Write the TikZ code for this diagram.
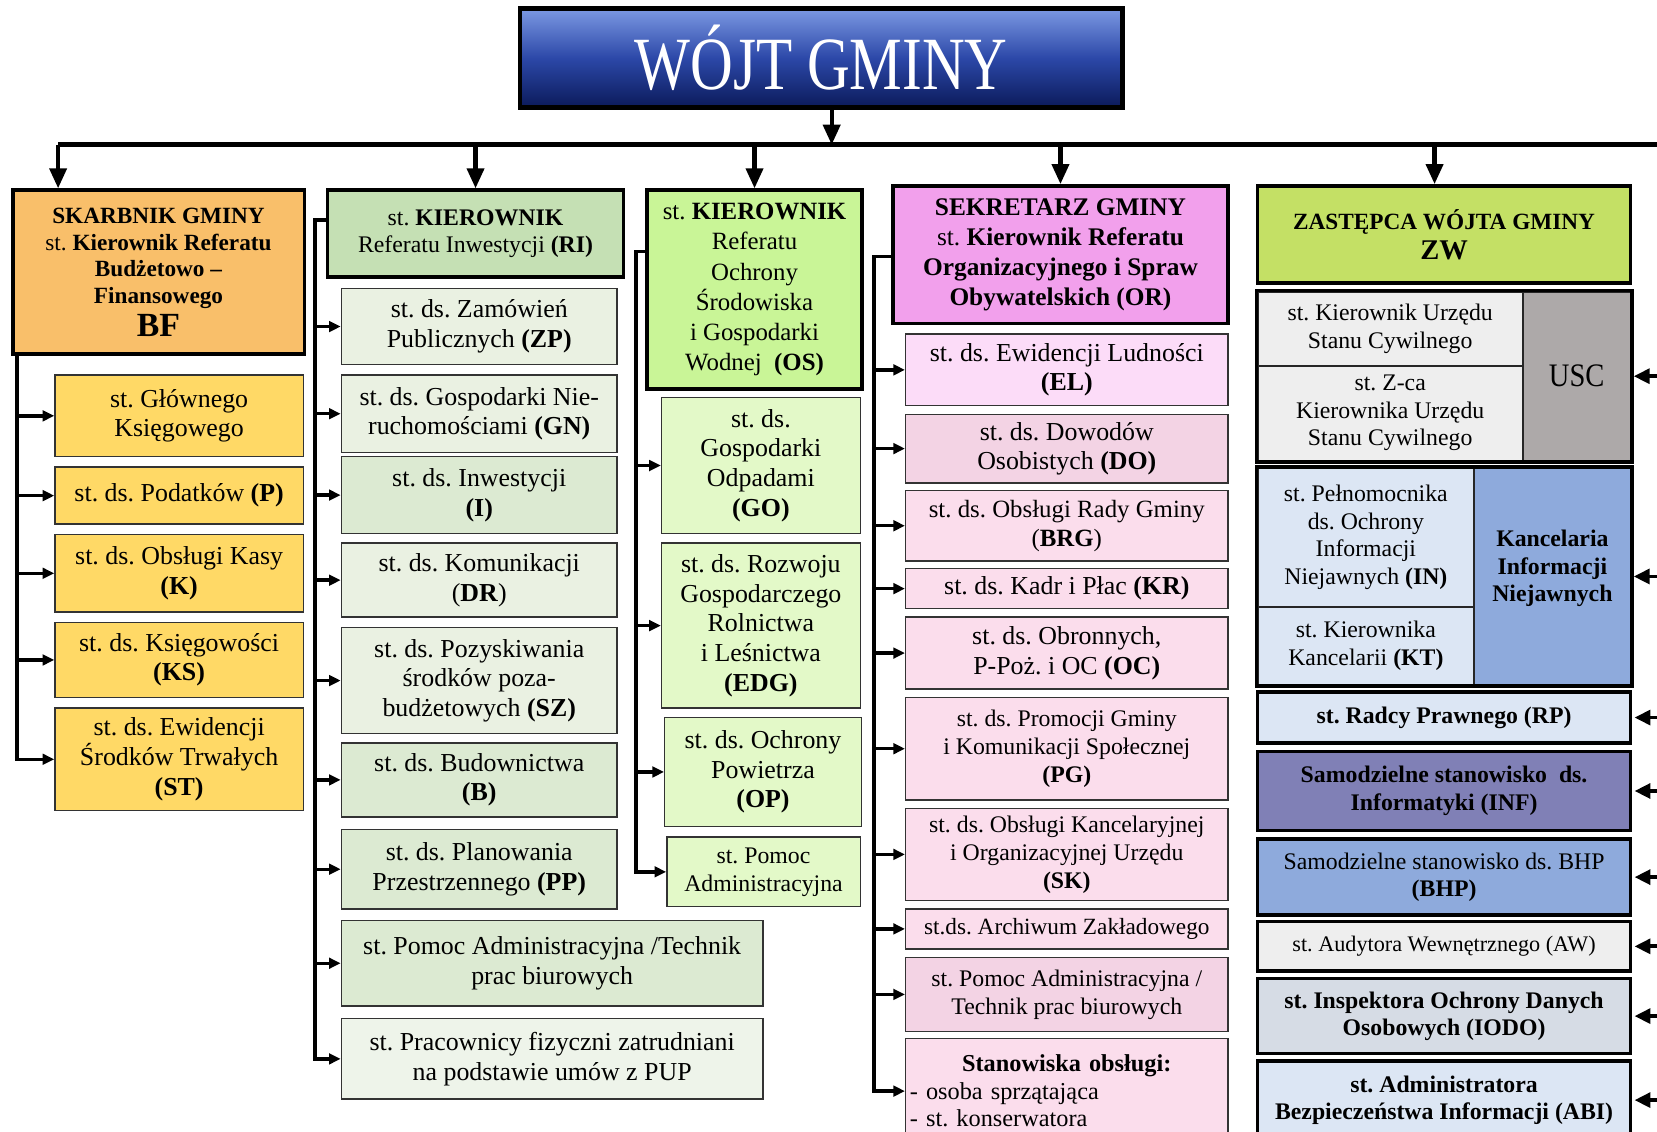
\documentclass[tikz,border=0pt]{standalone}
\usepackage{fontspec}
\setmainfont{Liberation Serif}
\usetikzlibrary{arrows.meta}
\definecolor{cOr}{HTML}{F9BF6A}
\definecolor{cYel}{HTML}{FFD966}
\definecolor{cRIh}{HTML}{C5E0B4}
\definecolor{cRIa}{HTML}{EAF1E2}
\definecolor{cRIb}{HTML}{DCEAD2}
\definecolor{cRIc}{HTML}{EEF4EA}
\definecolor{cOSh}{HTML}{C9F597}
\definecolor{cOSa}{HTML}{E3F9C8}
\definecolor{cORh}{HTML}{F2A0EC}
\definecolor{cORa}{HTML}{FCDCF8}
\definecolor{cORb}{HTML}{F3D3E4}
\definecolor{cORc}{HTML}{FBDDEC}
\definecolor{cZWh}{HTML}{C4E065}
\definecolor{cGrL}{HTML}{EEEEEE}
\definecolor{cGrD}{HTML}{ADA9A9}
\definecolor{cBlL}{HTML}{DCE6F4}
\definecolor{cBlM}{HTML}{8EAADC}
\definecolor{cPur}{HTML}{8080B6}
\definecolor{cIodo}{HTML}{D6DCE5}
\definecolor{cTtop}{HTML}{7C99E3}
\definecolor{cTmid}{HTML}{2C48A8}
\definecolor{cTbot}{HTML}{0B1A5A}
\newcommand\fC{\fontsize{24.5}{28}\selectfont}
\newcommand\fS{\fontsize{22.5}{26.5}\selectfont}
\newcommand\fH{\fontsize{22.5}{26}\selectfont}
\newcommand\bx[7]{\node[#1, minimum width={(#4)-(#2)}, minimum height={(#5)-(#3)}] (#6) at ({((#2)+(#4))/2},{((#3)+(#5))/2}) {#7};}
\tikzset{
  box/.style={draw=black!80, line width=1.3pt, align=center, inner sep=1pt, font=\fC},
  head/.style={draw=black, line width=3.5pt, align=center, inner sep=1pt},
  cell/.style={draw=black!85, line width=2pt, align=center, inner sep=1pt, font=\fH},
  side/.style={draw=black, line width=3.5pt, align=center, inner sep=1pt, font=\fH},
  trunk/.style={line width=3.2pt, line join=miter},
  arr/.style={trunk, -{Triangle[length=11pt,width=10pt]}},
  bigarr/.style={line width=4pt, -{Triangle[length=19pt,width=16pt]}},
  larr/.style={line width=3.5pt, -{Triangle[length=15pt,width=14pt]}},
}
\begin{document}
\frenchspacing
\begin{tikzpicture}[x=1pt,y=-1pt]
\useasboundingbox (0,0) rectangle (1568,1071);
% title
\node[draw=black, line width=4.5pt, minimum width=570, minimum height=94, top color=cTtop, bottom color=cTbot, middle color=cTmid, text=white, font=\fontsize{56}{60}\selectfont] (wojt) at (777,55) {\scalebox{1}[1.27]{WÓJT GMINY}};
% column 1
\bx{head,fill=cOr,font=\fontsize{22}{25.5}\selectfont}{12}{180}{288}{335}{bf}{\textbf{SKARBNIK GMINY}\\st. \textbf{Kierownik Referatu}\\\textbf{Budżetowo –}\\\textbf{Finansowego}\\[4pt]{\fontsize{32}{34}\selectfont\textbf{BF}}}
\bx{box,fill=cYel}{52}{355}{287}{432}{gk}{st. Głównego\\Księgowego}
\bx{box,fill=cYel}{52}{442}{287}{496}{pod}{st. ds. Podatków \textbf{(P)}}
\bx{box,fill=cYel}{52}{506}{287}{579}{kas}{st. ds. Obsługi Kasy\\\textbf{(K)}}
\bx{box,fill=cYel}{52}{589}{287}{660}{ksi}{st. ds. Księgowości\\\textbf{(KS)}}
\bx{box,fill=cYel}{52}{670}{287}{767}{ewi}{st. ds. Ewidencji\\Środków Trwałych\\\textbf{(ST)}}
% column 2
\bx{head,fill=cRIh,font=\fH}{310}{180}{590}{262}{ri}{st. \textbf{KIEROWNIK}\\Referatu Inwestycji \textbf{(RI)}}
\bx{box,fill=cRIa}{323}{273}{584}{345}{zp}{st. ds. Zamówień\\Publicznych \textbf{(ZP)}}
\bx{box,fill=cRIa}{323}{355}{584}{428}{gn}{st. ds. Gospodarki Nie-\\ruchomościami \textbf{(GN)}}
\bx{box,fill=cRIb}{323}{432}{584}{505}{inw}{st. ds. Inwestycji\\\textbf{(I)}}
\bx{box,fill=cRIa}{323}{514}{584}{584}{dr}{st. ds. Komunikacji\\(\textbf{DR})}
\bx{box,fill=cRIa}{323}{594}{584}{694}{sz}{st. ds. Pozyskiwania\\środków poza-\\budżetowych \textbf{(SZ)}}
\bx{box,fill=cRIb}{323}{703}{584}{773}{bud}{st. ds. Budownictwa\\\textbf{(B)}}
\bx{box,fill=cRIb}{323}{785}{584}{860}{pp}{st. ds. Planowania\\Przestrzennego \textbf{(PP)}}
\bx{box,fill=cRIb}{323}{871}{722}{952}{pomb}{st. Pomoc Administracyjna /Technik\\prac biurowych}
\bx{box,fill=cRIc}{323}{964}{722}{1040}{pra}{st. Pracownicy fizyczni zatrudniani\\na podstawie umów z PUP}
% column 3
\bx{head,fill=cOSh,font=\fontsize{23.5}{28.5}\selectfont}{612}{180}{816}{368}{os}{st. \textbf{KIEROWNIK}\\Referatu\\Ochrony\\Środowiska\\i Gospodarki\\Wodnej\ \ \textbf{(OS)}}
\bx{box,fill=cOSa}{626}{376}{814}{505}{go}{st. ds.\\Gospodarki\\Odpadami\\\textbf{(GO)}}
\bx{box,fill=cOSa}{626}{514}{814}{670}{edg}{st. ds. Rozwoju\\Gospodarczego\\Rolnictwa\\i Leśnictwa\\\textbf{(EDG)}}
\bx{box,fill=cOSa}{629}{679}{815}{782}{op}{st. ds. Ochrony\\Powietrza\\\textbf{(OP)}}
\bx{box,fill=cOSa,font=\fS}{631}{792}{814}{858}{pomc}{st. Pomoc\\Administracyjna}
% column 4
\bx{head,fill=cORh,font=\fontsize{24}{28.5}\selectfont}{845}{176}{1162}{306}{or}{\textbf{SEKRETARZ GMINY}\\st. \textbf{Kierownik Referatu}\\\textbf{Organizacyjnego i Spraw}\\\textbf{Obywatelskich (OR)}}
\bx{box,fill=cORa}{857}{316}{1162}{384}{el}{st. ds. Ewidencji Ludności\\\textbf{(EL)}}
\bx{box,fill=cORb}{857}{392}{1162}{457}{dow}{st. ds. Dowodów\\Osobistych \textbf{(DO)}}
\bx{box,fill=cORc,font=\fontsize{23.5}{27.5}\selectfont}{857}{464}{1162}{531}{brg}{st. ds. Obsługi Rady Gminy\\(\textbf{BRG})}
\bx{box,fill=cORc}{857}{538}{1162}{576}{kr}{st. ds. Kadr i Płac \textbf{(KR)}}
\bx{box,fill=cORc}{857}{584}{1162}{652}{oc}{st. ds. Obronnych,\\P-Poż. i OC \textbf{(OC)}}
\bx{box,fill=cORc,font=\fS}{857}{660}{1162}{757}{pg}{st. ds. Promocji Gminy\\i Komunikacji Społecznej\\\textbf{(PG)}}
\bx{box,fill=cORc,font=\fS}{857}{765}{1162}{852}{sk}{st. ds. Obsługi Kancelaryjnej\\i Organizacyjnej Urzędu\\\textbf{(SK)}}
\bx{box,fill=cORc,font=\fontsize{22}{26}\selectfont}{857}{860}{1162}{898}{arch}{st.ds. Archiwum Zakładowego}
\bx{box,fill=cORb,font=\fS}{857}{906}{1162}{976}{pomd}{st. Pomoc Administracyjna /\\Technik prac biurowych}
\node[box, fill=cORc, font=\fontsize{23}{26}\selectfont, minimum width=305, minimum height=99, text width=297, align=left] (sto) at (1009.5,1032.5) {\makebox[297pt][c]{\textbf{Stanowiska obsługi:}}\\- osoba sprzątająca\\- st. konserwatora};
% column 5
\bx{head,fill=cZWh,font=\fontsize{22}{26}\selectfont}{1190}{176}{1543}{268}{zw}{\textbf{ZASTĘPCA WÓJTA GMINY}\\[3pt]{\fontsize{27}{28}\selectfont\textbf{ZW}}}
\bx{cell,fill=cGrL}{1190}{276}{1441}{346}{uscA}{st. Kierownik Urzędu\\Stanu Cywilnego}
\bx{cell,fill=cGrL}{1190}{346}{1441}{436}{uscB}{st. Z-ca\\Kierownika Urzędu\\Stanu Cywilnego}
\bx{cell,fill=cGrD,font=\fontsize{27}{30}\selectfont}{1441}{276}{1543}{436}{usc}{\scalebox{1}[1.15]{USC}}
\draw[line width=3.5pt] (uscA.north west) rectangle (usc.south east);
\bx{cell,fill=cBlL}{1190}{443}{1395}{574}{inj}{st. Pełnomocnika\\ds. Ochrony\\Informacji\\Niejawnych \textbf{(IN)}}
\bx{cell,fill=cBlL}{1190}{574}{1395}{648}{kt}{st. Kierownika\\Kancelarii \textbf{(KT)}}
\bx{cell,fill=cBlM}{1395}{443}{1543}{648}{kin}{\textbf{Kancelaria}\\\textbf{Informacji}\\\textbf{Niejawnych}\\[-6pt]}
\draw[line width=3.5pt] (inj.north west) rectangle (kin.south east);
\bx{side,fill=cBlL}{1190}{655}{1543}{703}{rp}{\textbf{st. Radcy Prawnego (RP)}}
\bx{side,fill=cPur}{1190}{711}{1543}{786}{inf}{\textbf{Samodzielne stanowisko\ \ ds.}\\\textbf{Informatyki (INF)}}
\bx{side,fill=cBlM}{1190}{794}{1543}{866}{bhp}{Samodzielne stanowisko ds. BHP\\\textbf{(BHP)}}
\bx{side,fill=cGrL,font=\fontsize{21}{24}\selectfont}{1190}{872}{1543}{919}{aw}{st. Audytora Wewnętrznego (AW)}
\bx{side,fill=cIodo}{1190}{926}{1543}{997}{iodo}{\textbf{st. Inspektora Ochrony Danych}\\\textbf{Osobowych (IODO)}}
\bx{side,fill=cBlL}{1190}{1004}{1543}{1078}{abi}{\textbf{st. Administratora}\\\textbf{Bezpieczeństwa Informacji (ABI)}}
% main bar
\coordinate (bl) at (55,137);
\coordinate (br) at (1590,137);
\coordinate (tb) at (787,137);
\draw[bigarr] (tb |- wojt.south) -- (tb);
\draw[line width=5pt] (br) -- (bl);
\draw[bigarr] (bl) -- (bl |- bf.north);
\draw[bigarr] (ri.north |- bl) -- (ri.north);
\draw[bigarr] (os.north |- bl) -- (os.north);
\draw[bigarr] (or.north |- bl) -- (or.north);
\draw[bigarr] ([xshift=-9pt]zw.north |- bl) -- ([xshift=-9pt]zw.north);
% column 1 connectors
\coordinate (t1) at (16,335);
\draw[arr] (t1) |- (ewi.west);
\foreach \n in {gk,pod,kas,ksi} \draw[arr] (t1 |- \n.west) -- (\n.west);
% column 2 connectors
\coordinate (t2) at (298,208);
\draw[arr] (ri.west |- t2) -- (t2) |- (pra.west);
\foreach \n in {zp,gn,inw,dr,sz,bud,pp,pomb} \draw[arr] (t2 |- \n.west) -- (\n.west);
% column 3 connectors
\coordinate (t3) at (602,238);
\draw[arr] (os.west |- t3) -- (t3) |- (pomc.west);
\foreach \n in {go,edg,op} \draw[arr] (t3 |- \n.west) -- (\n.west);
% column 4 connectors
\coordinate (t4) at (827,243);
\draw[arr] (or.west |- t4) -- (t4) |- (sto.west);
\foreach \n in {el,dow,brg,kr,oc,pg,sk,arch,pomd} \draw[arr] (t4 |- \n.west) -- (\n.west);
% right side connectors
\draw[line width=4pt] (br) -- (br |- abi.east);
\foreach \n in {usc,kin,rp,inf,bhp,aw,iodo,abi} \draw[larr] (br |- \n.east) -- ([xshift=2pt]\n.east);
\end{tikzpicture}
\end{document}
